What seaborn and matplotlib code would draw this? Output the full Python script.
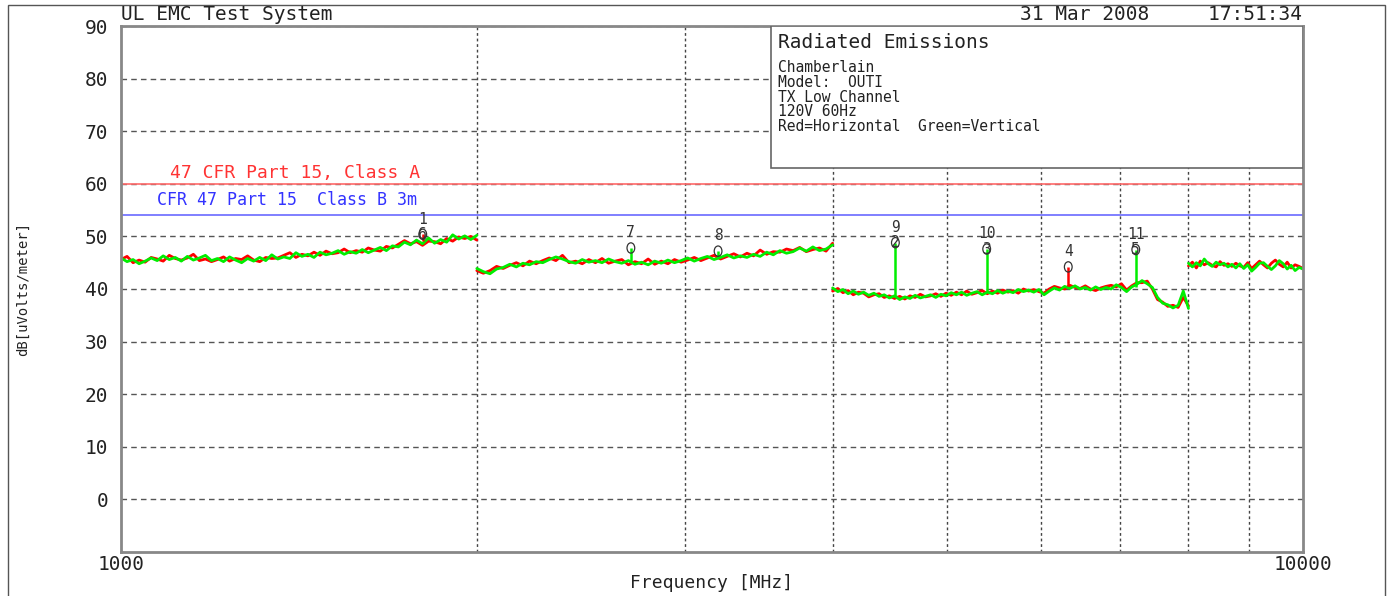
import numpy as np
import pandas as pd
import matplotlib
matplotlib.use("Agg")
import matplotlib.pyplot as plt
import seaborn as sns
from matplotlib.patches import Rectangle
from matplotlib.path import Path
from matplotlib.transforms import Affine2D
from matplotlib.ticker import FixedLocator, NullFormatter

# ---------------- data ----------------
seg_edges = [(1000, 2000), (2000, 4000), (4000, 8000), (8000, 10000)]

green_seg1 = [45.9, 45.2, 45.6, 44.8, 45.3, 45.9, 45.4, 46.3, 45.6, 46.0, 45.3, 46.2, 45.5, 45.9, 46.4,
              45.4, 45.8, 45.2, 46.1, 45.5, 45.0, 45.8, 45.3, 46.0, 45.4, 46.5, 45.7, 46.1, 45.8, 46.9,
              46.2, 46.6, 46.0, 47.0, 46.5, 46.8, 47.3, 46.6, 47.1, 46.8, 47.5, 46.9, 47.4, 47.9, 47.3,
              48.2, 48.0, 48.9, 48.4, 49.3, 48.6, 49.7, 48.7, 49.4, 48.9, 50.3, 49.5, 50.1, 49.4, 50.2]
red_seg1 = [45.6, 46.2, 45.0, 45.5, 45.1, 46.0, 45.7, 45.3, 46.4, 45.8, 45.5, 45.9, 46.6, 45.4, 45.7,
            45.2, 45.6, 46.1, 45.3, 45.8, 45.6, 46.3, 45.5, 45.2, 46.0, 45.8, 45.9, 46.4, 46.9, 46.0,
            46.6, 46.3, 47.0, 46.4, 47.2, 46.7, 46.9, 47.6, 46.9, 47.3, 47.0, 47.8, 47.4, 47.2, 48.1,
            47.8, 48.5, 49.2, 48.6, 49.0, 48.3, 49.1, 49.0, 48.6, 49.6, 49.1, 49.9, 49.6, 50.0, 49.3]

green_seg2 = [43.9, 43.3, 42.9, 43.8, 44.1, 44.7, 44.2, 44.9, 44.6, 45.2, 45.0, 45.6, 46.1, 45.7, 45.2,
              44.9, 45.6, 45.1, 45.4, 45.0, 45.7, 45.2, 44.9, 45.4, 44.7, 45.1, 44.6, 45.3, 44.9, 45.5,
              45.0, 45.4, 45.9, 45.3, 45.8, 46.2, 45.6, 46.0, 46.5, 45.9, 46.3, 46.0, 46.6, 46.2, 47.0,
              46.5, 47.3, 46.8, 47.1, 47.8, 47.2, 48.0, 47.3, 47.6, 48.4]
red_seg2 = [43.5, 43.0, 43.5, 44.3, 43.9, 44.5, 45.0, 44.4, 45.3, 44.8, 45.4, 45.9, 45.4, 46.4, 45.0,
            45.3, 44.8, 45.6, 45.0, 45.8, 44.9, 45.3, 45.6, 44.6, 45.2, 44.8, 45.7, 44.7, 45.3, 44.8,
            45.6, 45.1, 45.5, 46.0, 45.4, 45.9, 46.4, 45.7, 46.2, 46.7, 46.1, 46.8, 46.3, 47.4, 46.6,
            47.1, 47.0, 47.6, 47.3, 47.9, 47.1, 47.5, 47.8, 47.2, 48.7]

green_seg3 = [40.2, 39.5, 39.9, 39.1, 39.6, 39.0, 39.4, 38.8, 39.2, 38.6,
              38.9, 38.3, 38.7, 38.0, 38.5, 38.2, 38.8, 38.3, 38.6, 38.9,
              38.4, 39.0, 38.7, 39.3, 38.9, 39.4, 38.8, 39.2, 39.5, 38.9,
              39.4, 39.1, 39.7, 39.2, 39.6, 39.3, 39.9, 39.5, 39.8, 39.4,
              39.9, 38.9, 39.6, 40.2, 39.8, 40.5, 40.1, 40.6, 40.0, 40.3,
              39.8, 40.4, 39.9, 40.3, 40.0, 40.8, 40.3, 39.5, 40.4, 40.9,
              41.6, 41.0, 40.3, 38.4, 37.3, 37.0, 36.4, 36.9, 39.6, 36.3]
red_seg3 = [39.6, 40.1, 39.3, 39.7, 38.9, 39.4, 39.2, 38.5, 38.9, 39.1,
            38.4, 38.7, 38.2, 38.6, 38.1, 38.7, 38.4, 39.0, 38.5, 38.7,
            39.1, 38.6, 39.2, 38.8, 39.4, 38.9, 39.6, 39.0, 39.3, 39.7,
            39.1, 39.6, 39.2, 39.8, 39.4, 39.7, 39.2, 40.0, 39.6, 39.9,
            39.5, 39.2, 40.0, 40.5, 40.2, 40.0, 40.7, 40.3, 40.1, 40.6,
            40.0, 39.7, 40.2, 40.5, 40.7, 40.4, 41.0, 39.8, 40.6, 41.2,
            41.2, 41.5, 40.0, 38.0, 37.5, 36.7, 36.9, 36.5, 38.4, 36.8]

green_seg4 = [44.9, 44.2, 45.0, 44.4, 45.7, 44.8, 44.3, 45.1, 44.6, 44.9, 44.2, 44.7, 44.0, 44.8, 43.9,
              44.6, 43.4, 44.1, 44.9, 45.0, 44.3, 43.7, 44.4, 45.4, 44.8, 43.8, 44.5, 43.5, 44.1, 43.8]
red_seg4 = [44.4, 45.1, 44.0, 45.3, 44.6, 45.0, 44.5, 44.2, 45.2, 44.5, 44.8, 44.3, 44.9, 44.4, 44.1,
            45.0, 43.9, 44.6, 45.3, 44.6, 44.0, 44.9, 45.5, 44.7, 44.2, 45.1, 44.0, 44.6, 44.3, 43.9]

green_segs = [green_seg1, green_seg2, green_seg3, green_seg4]
red_segs = [red_seg1, red_seg2, red_seg3, red_seg4]

# marker spikes
mk_freq = [1800, 2700, 3200, 4520, 5400, 6330, 7220]
mk_base = [49.2, 45.2, 46.0, 38.4, 39.4, 40.6, 40.3]
mk_peak = [50.4, 47.8, 47.2, 48.8, 47.6, 44.2, 47.5]
mk_pol = ["Horizontal", "Vertical", "Vertical", "Vertical", "Vertical", "Horizontal", "Vertical"]
mk_label = ["1\n6", "7", "8", "9\n2", "10\n3", "4", "11\n5"]

limit_a = 60.0
limit_b = 54.0
limit_a_label = "47 CFR Part 15, Class A"
limit_b_label = "CFR 47 Part 15  Class B 3m"

y_ticks = [0, 10, 20, 30, 40, 50, 60, 70, 80, 90]
x_major = [1000, 10000]
x_minor = [2000, 3000, 4000, 5000, 6000, 7000, 8000, 9000]

info_title = "Radiated Emissions"
info_lines = ["Chamberlain", "Model:  OUTI", "TX Low Channel", "120V 60Hz",
              "Red=Horizontal  Green=Vertical"]
header_left = "UL EMC Test System"
header_right = "31 Mar 2008     17:51:34"

# ---------------- build table ----------------
rows = []
for pol, segs in (("Horizontal", red_segs), ("Vertical", green_segs)):
    for k, ((f0, f1), vals) in enumerate(zip(seg_edges, segs)):
        freqs = np.geomspace(f0, f1, len(vals))
        for f, v in zip(freqs, vals):
            rows.append({"freq": f, "level": v, "pol": pol, "seg": k})
df = pd.DataFrame(rows)

sns.set_theme(style="white")
plt.rcParams["font.family"] = ["DejaVu Sans Mono", "DejaVu Sans"]

W, H = 1395, 596
fig = plt.figure(figsize=(W / 100, H / 100), dpi=100)
ax = fig.add_axes([121 / W, 1 - 552 / H, (1303 - 121) / W, (552 - 26) / H])

palette = {"Horizontal": "#ff0000", "Vertical": "#00ee00"}
sns.lineplot(data=df, x="freq", y="level", hue="pol", units="seg", estimator=None,
             palette=palette, hue_order=["Horizontal", "Vertical"], legend=False,
             linewidth=2.0, ax=ax, zorder=2)

for f, b, p, pol in zip(mk_freq, mk_base, mk_peak, mk_pol):
    ax.vlines(f, b, p, color=palette[pol], lw=1.8, zorder=2.2)

oval = Path.unit_circle().transformed(Affine2D().scale(0.75, 1.0))
ax.scatter(mk_freq, mk_peak, s=55, marker=oval, facecolors="none", edgecolors="#333333",
           linewidths=0.9, zorder=4)
for f, p, lab in zip(mk_freq, mk_peak, mk_label):
    parts = lab.split("\n")
    # the upper number sits above the marker circle, a second number sits on it
    ax.annotate(parts[0], (f, p), xytext=(0, 5.5), textcoords="offset points",
                ha="center", va="bottom", fontsize=10.5, color="#333333", zorder=4)
    if len(parts) > 1:
        ax.annotate(parts[1], (f, p), xytext=(0, 0), textcoords="offset points",
                    ha="center", va="center", fontsize=10.5, color="#333333", zorder=4)

ax.axhline(limit_a, color="#ff6a6a", lw=1.2, zorder=1.5)
ax.axhline(limit_b, color="#6a6aff", lw=1.2, zorder=1.5)
ax.text(1100, 62.0, limit_a_label, color="#ff3333", fontsize=13, va="center", ha="left")
ax.text(1073, 57.0, limit_b_label, color="#3333ff", fontsize=12, va="center", ha="left")

ax.set_xscale("log")
ax.set_xlim(1000, 10000)
ax.set_ylim(-10, 90)
ax.xaxis.set_major_locator(FixedLocator(x_major))
ax.set_xticklabels([str(v) for v in x_major])
ax.xaxis.set_minor_locator(FixedLocator(x_minor))
ax.xaxis.set_minor_formatter(NullFormatter())
ax.set_yticks(y_ticks)
ax.set_yticklabels([str(v) for v in y_ticks])
ax.tick_params(axis="both", which="both", length=0)
ax.tick_params(axis="y", pad=9, labelsize=14, labelcolor="#222222")
ax.tick_params(axis="x", pad=2, labelsize=14, labelcolor="#222222")

ax.set_axisbelow(True)
ax.grid(False)
ax.yaxis.grid(True, which="major", linestyle=(0, (4, 3)), color="#555555", lw=1)
ax.xaxis.grid(True, which="minor", linestyle=(0, (2, 2)), color="#444444", lw=1)

for s in ax.spines.values():
    s.set_color("#888888")
    s.set_linewidth(2)

ax.set_xlabel("Frequency [MHz]", fontsize=13, color="#222222")
ax.xaxis.set_label_coords(0.5, -(583 - 552) / (552 - 26), transform=ax.transAxes)
ax.xaxis.label.set_verticalalignment("center")
ax.set_ylabel("dB[uVolts/meter]", fontsize=10, color="#222222")
ax.yaxis.set_label_coords(-(121 - 30) / (1303 - 121), 0.5)

# info box
ax.add_patch(Rectangle((650 / 1182, (552 - 168) / 526), 1 - 650 / 1182, 1 - (552 - 168) / 526,
                       transform=ax.transAxes, facecolor="white", edgecolor="#666666",
                       lw=1.2, zorder=3))
fig.text(778 / W, 1 - 42 / H, info_title, fontsize=14, color="#222222", va="center", ha="left")
for i, line in enumerate(info_lines):
    fig.text(778 / W, 1 - (68 + i * 14.6) / H, line, fontsize=10.5, color="#222222",
             va="center", ha="left")

fig.text(121 / W, 1 - 15 / H, header_left, fontsize=14, color="#222222", va="center", ha="left")
fig.text(1302 / W, 1 - 15 / H, header_right, fontsize=14, color="#222222", va="center", ha="right")

fig.patches.append(Rectangle((8 / W, -0.02), (1385 - 8) / W, 1 + 0.02 - 5 / H,
                             transform=fig.transFigure, fill=False, edgecolor="#555555", lw=1))

fig.savefig("out.png", dpi=100, facecolor="white")
